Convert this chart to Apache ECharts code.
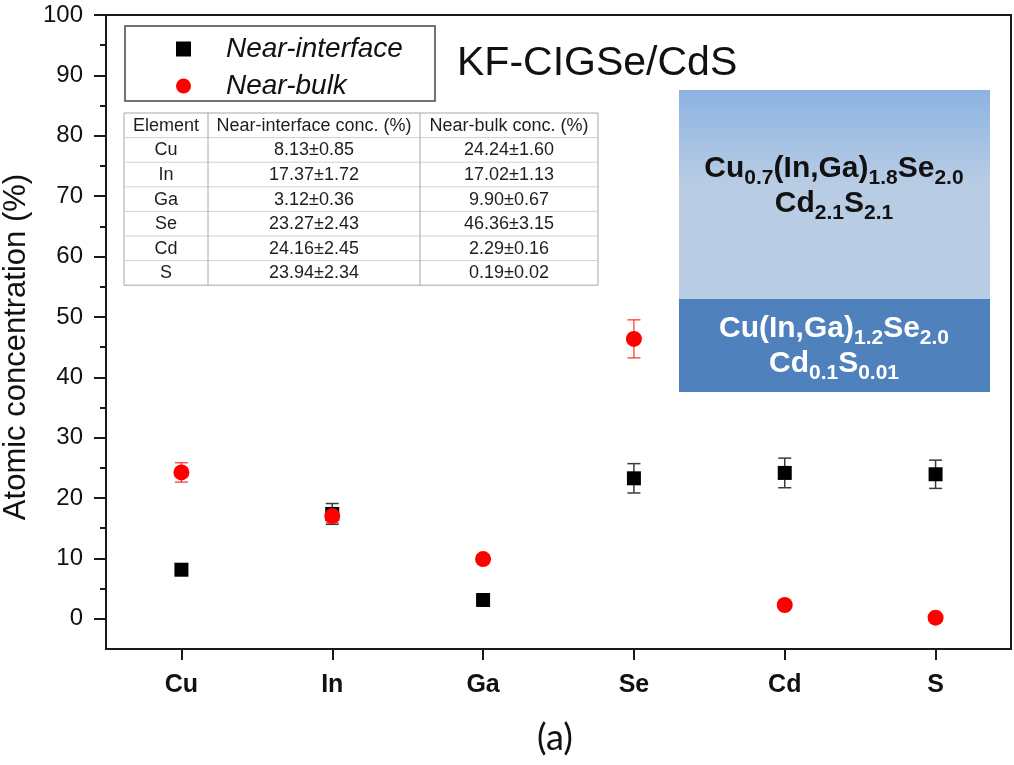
<!DOCTYPE html>
<html>
<head>
<meta charset="utf-8">
<script src="https://cdn.jsdelivr.net/npm/echarts@6/dist/echarts.min.js"></script>
<style>
  html, body { margin: 0; padding: 0; background: #fff; }
  #chart { width: 1014px; height: 765px; }
</style>
</head>
<body>
<div id="chart"></div>
<script>
// Elemental composition of the KF-CIGSe/CdS stack (atomic %)
const elements = ['Cu', 'In', 'Ga', 'Se', 'Cd', 'S'];
const interfaceConc = [8.13, 17.37, 3.12, 23.27, 24.16, 23.94];
const interfaceErr = [0.85, 1.72, 0.36, 2.43, 2.45, 2.34];
const bulkConc = [24.24, 17.02, 9.90, 46.36, 2.29, 0.19];
const bulkErr = [1.60, 1.13, 0.67, 3.15, 0.16, 0.02];
const seriesNames = ['Near-interface', 'Near-bulk'];

const yLabelTicks = [0, 10, 20, 30, 40, 50, 60, 70, 80, 90, 100];
const yMinorTicks = [5, 15, 25, 35, 45, 55, 65, 75, 85, 95];

const tableHeader = ['Element', 'Near-interface conc. (%)', 'Near-bulk conc. (%)'];
const titleText = 'KF-CIGSe/CdS';
const panelText = '(a)';
const yAxisName = 'Atomic concentration (%)';

// Layer compositions: {m|...} regular, {s|...} subscript
const upperLayerLines = [
  '{m|Cu}{s|0.7}{m|(In,Ga)}{s|1.8}{m|Se}{s|2.0}',
  '{m|Cd}{s|2.1}{m|S}{s|2.1}'
];
const lowerLayerLines = [
  '{m|Cu(In,Ga)}{s|1.2}{m|Se}{s|2.0}',
  '{m|Cd}{s|0.1}{m|S}{s|0.01}'
];

const FONT = '"Liberation Sans", Arial, sans-serif';
const AXIS_COLOR = '#1a1a1a';

const fmt = (v, e) => v.toFixed(2) + '\u00b1' + e.toFixed(2);

// ---- table drawn as graphic elements ----
function buildTable() {
  const x0 = 124, top = 113;
  const colEdges = [0, 84, 296, 474];
  const rowH = 24.6;
  const nRows = elements.length + 1;
  const w = colEdges[colEdges.length - 1];
  const h = rowH * nRows;
  const lineColor = '#a6a6a6';
  const children = [];
  children.push({ type: 'rect', shape: { x: 0, y: 0, width: w, height: h },
    style: { fill: '#fff', stroke: lineColor, lineWidth: 1 } });
  for (let r = 1; r < nRows; r++) {
    children.push({ type: 'line', shape: { x1: 0, y1: r * rowH, x2: w, y2: r * rowH },
      style: { stroke: '#d0d0d0', lineWidth: 1 } });
  }
  for (let c = 1; c < colEdges.length - 1; c++) {
    children.push({ type: 'line', shape: { x1: colEdges[c], y1: 0, x2: colEdges[c], y2: h },
      style: { stroke: lineColor, lineWidth: 1 } });
  }
  const rows = [tableHeader].concat(elements.map((el, i) => [
    el, fmt(interfaceConc[i], interfaceErr[i]), fmt(bulkConc[i], bulkErr[i])
  ]));
  rows.forEach((row, r) => {
    row.forEach((txt, c) => {
      children.push({
        type: 'text',
        x: (colEdges[c] + colEdges[c + 1]) / 2,
        y: r * rowH + rowH / 2 + 0.5,
        style: { text: txt, fontSize: 18, fontFamily: FONT, fill: '#1e1e1e',
          align: 'center', verticalAlign: 'middle' }
      });
    });
  });
  return { type: 'group', x: x0, y: top, children: children, z: 10 };
}

function layerText(lines, cx, cy, color) {
  return {
    type: 'text', x: cx, y: cy, z: 12,
    style: {
      text: lines.join('\n'),
      align: 'center', verticalAlign: 'middle',
      fill: color,
      rich: {
        m: { fontSize: 30, fontWeight: 'bold', fontFamily: FONT, fill: color,
             lineHeight: 35, verticalAlign: 'top' },
        s: { fontSize: 21, fontWeight: 'bold', fontFamily: FONT, fill: color,
             lineHeight: 22, padding: [14, 0, 0, 0], verticalAlign: 'top' }
      }
    }
  };
}

// ---- error bars ----
function errorBars(name, vals, errs, color, width) {
  return {
    type: 'custom',
    name: name,
    silent: true,
    z: 2,
    encode: { x: 0, y: [1, 2] },
    data: vals.map((v, i) => [i, v - errs[i], v + errs[i]]),
    renderItem: function (params, api) {
      const x = api.value(0);
      const lo = api.coord([x, api.value(1)]);
      const hi = api.coord([x, api.value(2)]);
      const hw = 6.5;
      const st = { stroke: color, lineWidth: width };
      return {
        type: 'group',
        children: [
          { type: 'line', shape: { x1: lo[0], y1: lo[1], x2: hi[0], y2: hi[1] }, style: st },
          { type: 'line', shape: { x1: lo[0] - hw, y1: lo[1], x2: lo[0] + hw, y2: lo[1] }, style: st },
          { type: 'line', shape: { x1: hi[0] - hw, y1: hi[1], x2: hi[0] + hw, y2: hi[1] }, style: st }
        ]
      };
    }
  };
}

const chart = echarts.init(document.getElementById('chart'), null, { renderer: 'canvas' });

const option = {
  backgroundColor: '#ffffff',
  animation: false,
  textStyle: { fontFamily: FONT },
  title: [
    { text: titleText, left: 457, top: 43, padding: 0,
      textStyle: { fontSize: 41, fontWeight: 'normal', color: '#111', fontFamily: FONT } }
  ],
  grid: {
    left: 106, right: 3, top: 15, bottom: 116,
    outerBoundsMode: 'none',
    containLabel: false,
    show: true, borderColor: AXIS_COLOR, borderWidth: 2, backgroundColor: 'transparent'
  },
  legend: {
    data: seriesNames,
    orient: 'vertical',
    left: 176, top: 35,
    padding: 0,
    itemWidth: 15, itemHeight: 15,
    itemGap: 9,
    textStyle: { fontSize: 28, fontStyle: 'italic', color: '#111', fontFamily: FONT,
      padding: [0, 0, 0, 30] }
  },
  xAxis: {
    type: 'category',
    data: elements,
    boundaryGap: true,
    axisLine: { show: true, onZero: false, lineStyle: { color: AXIS_COLOR, width: 2 } },
    axisTick: { show: true, alignWithLabel: true, length: 11, lineStyle: { color: AXIS_COLOR, width: 2 } },
    axisLabel: { fontSize: 25, fontWeight: 'bold', color: '#111', margin: 24, fontFamily: FONT },
    splitLine: { show: false }
  },
  yAxis: [
    {
      type: 'value', min: -5, max: 100, interval: 5,
      position: 'left',
      name: yAxisName, nameLocation: 'middle', nameGap: 70,
      nameTextStyle: { fontSize: 31, color: '#111', fontFamily: FONT, padding: [0, 30, 0, 0] },
      axisLine: { show: true, onZero: false, lineStyle: { color: AXIS_COLOR, width: 2 } },
      axisTick: { show: true, length: 12, customValues: yLabelTicks,
        lineStyle: { color: AXIS_COLOR, width: 2 } },
      axisLabel: { customValues: yLabelTicks, fontSize: 24, color: '#111', margin: 23, fontFamily: FONT },
      splitLine: { show: false }
    },
    {
      type: 'value', min: -5, max: 100, interval: 5,
      position: 'left',
      axisLine: { show: false, onZero: false },
      axisTick: { show: true, length: 6, customValues: yMinorTicks,
        lineStyle: { color: AXIS_COLOR, width: 2 } },
      axisLabel: { show: false },
      splitLine: { show: false }
    }
  ],
  series: [
    errorBars('Near-interface error', interfaceConc, interfaceErr, '#3a3a3a', 1.5),
    errorBars('Near-bulk error', bulkConc, bulkErr, '#ff2a2a', 1.2),
    {
      name: seriesNames[0], type: 'scatter', z: 3,
      symbol: 'rect', symbolSize: 14,
      itemStyle: { color: '#000000', opacity: 1 },
      data: interfaceConc
    },
    {
      name: seriesNames[1], type: 'scatter', z: 4,
      symbol: 'circle', symbolSize: 16,
      itemStyle: { color: '#ff0000', opacity: 1 },
      data: bulkConc
    }
  ],
  graphic: [
    // legend frame
    { type: 'rect', z: 5, silent: true,
      shape: { x: 125, y: 26, width: 310, height: 75 },
      style: { fill: 'transparent', stroke: '#444', lineWidth: 1.5 } },
    buildTable(),
    // layer stack schematic
    { type: 'rect', z: 11, silent: true,
      shape: { x: 679, y: 90, width: 311, height: 209 },
      style: {
        fill: new echarts.graphic.LinearGradient(0, 0, 0, 1, [
          { offset: 0, color: '#8db3e2' },
          { offset: 0.45, color: '#b8cce4' },
          { offset: 1, color: '#b9cde5' }
        ])
      } },
    { type: 'rect', z: 11, silent: true,
      shape: { x: 679, y: 299, width: 311, height: 93 },
      style: { fill: '#4f81bd' } },
    layerText(upperLayerLines, 834, 189, '#111111'),
    layerText(lowerLayerLines, 834, 349, '#ffffff'),
    // panel label
    { type: 'text', x: 555, y: 738, z: 10,
      style: { text: panelText, fontSize: 36, fontFamily: 'Lato, "Open Sans", sans-serif',
        fill: '#111', align: 'center', verticalAlign: 'middle' } }
  ]
};

chart.setOption(option);
</script>
</body>
</html>
